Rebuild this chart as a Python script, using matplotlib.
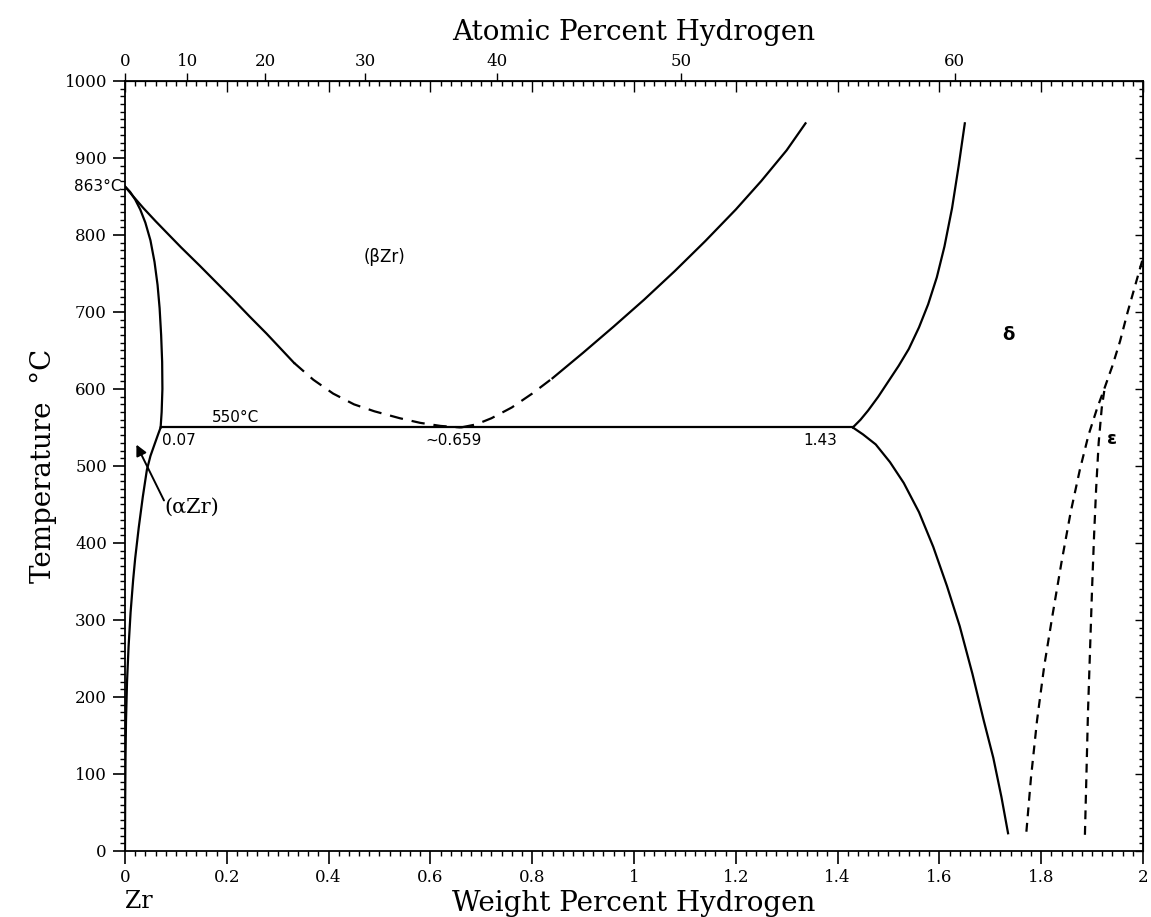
import matplotlib.pyplot as plt

# Zr-H phase diagram, weight percent hydrogen vs temperature
M_H = 1.008
M_ZR = 91.224

# boundary curves (wt% H, degC)
alpha_beta_w = [0, 0.01, 0.02, 0.03, 0.04, 0.05, 0.058, 0.064, 0.068, 0.071, 0.073, 0.0735, 0.072, 0.07]
alpha_beta_t = [863, 856, 846, 833, 816, 793, 765, 735, 705, 670, 635, 600, 570, 550]

beta_left_w = [0, 0.015, 0.036, 0.06, 0.082, 0.11, 0.147, 0.18, 0.213, 0.245, 0.278, 0.305, 0.332]
beta_left_t = [863, 851, 835, 818, 803, 784, 760, 738, 716, 694, 672, 653, 634]
beta_left_dash_w = [0.332, 0.37, 0.409, 0.45, 0.49, 0.54, 0.58, 0.62, 0.66]
beta_left_dash_t = [634, 612, 594, 580, 571, 562, 556, 552, 550]

beta_right_dash_w = [0.66, 0.69, 0.72, 0.76, 0.80, 0.84]
beta_right_dash_t = [550, 554, 562, 576, 594, 614]
beta_right_w = [0.84, 0.90, 0.96, 1.02, 1.08, 1.14, 1.20, 1.25, 1.30, 1.337]
beta_right_t = [614, 647, 681, 716, 753, 792, 833, 870, 910, 945]

alpha_delta_w = [0, 0.0003, 0.001, 0.002, 0.004, 0.007, 0.011, 0.016, 0.02, 0.027, 0.035,
                 0.043, 0.05, 0.058, 0.065, 0.07]
alpha_delta_t = [0, 60, 120, 170, 220, 265, 310, 352, 380, 420, 460, 495, 513, 528, 541, 550]

eutectoid_w = [0.07, 1.43]
eutectoid_t = [550, 550]

delta_upper_w = [1.43, 1.445, 1.46, 1.48, 1.50, 1.52, 1.54, 1.56, 1.578, 1.595, 1.61, 1.625, 1.638, 1.65]
delta_upper_t = [550, 560, 572, 590, 610, 630, 652, 680, 710, 745, 785, 835, 890, 945]

delta_lower_w = [1.43, 1.45, 1.475, 1.503, 1.53, 1.56, 1.588, 1.615, 1.64, 1.665, 1.687, 1.706, 1.722, 1.735]
delta_lower_t = [550, 541, 528, 505, 478, 440, 395, 344, 292, 230, 170, 121, 70, 23]

eps_left_w = [1.771, 1.78, 1.792, 1.806, 1.822, 1.84, 1.858, 1.876, 1.893, 1.91, 1.925, 1.94,
              1.955, 1.97, 1.985, 2.0]
eps_left_t = [25, 95, 170, 240, 305, 375, 440, 495, 540, 575, 602, 630, 662, 700, 735, 770]
eps_right_w = [1.886, 1.889, 1.892, 1.896, 1.900, 1.904, 1.908, 1.913, 1.919, 1.925]
eps_right_t = [21, 100, 180, 260, 340, 410, 470, 530, 575, 602]

wt_ticks = [0, 0.2, 0.4, 0.6, 0.8, 1.0, 1.2, 1.4, 1.6, 1.8, 2.0]
wt_labels = ['0', '0.2', '0.4', '0.6', '0.8', '1', '1.2', '1.4', '1.6', '1.8', '2']
at_ticks = [0, 10, 20, 30, 40, 50, 60]
t_ticks = list(range(0, 1001, 100))


def wt_to_at(w):
    nh = w / M_H
    return 100 * nh / (nh + (100 - w) / M_ZR)


def at_to_wt(a):
    return 100 * a * M_H / (a * M_H + (100 - a) * M_ZR)


serif = 'DejaVu Serif'
sans = 'DejaVu Sans'

fig = plt.figure(figsize=(11.51, 9.17), dpi=100)
ax = fig.add_axes([0.1086, 0.072, 0.8844, 0.8397])

lw = 1.6
ax.plot(alpha_beta_w, alpha_beta_t, color='k', lw=lw)
ax.plot(beta_left_w, beta_left_t, color='k', lw=lw)
ax.plot(beta_left_dash_w, beta_left_dash_t, color='k', lw=lw, dashes=(6, 4))
ax.plot(beta_right_dash_w, beta_right_dash_t, color='k', lw=lw, dashes=(6, 4))
ax.plot(beta_right_w, beta_right_t, color='k', lw=lw)
ax.plot(alpha_delta_w, alpha_delta_t, color='k', lw=lw)
ax.plot(eutectoid_w, eutectoid_t, color='k', lw=lw)
ax.plot(delta_upper_w, delta_upper_t, color='k', lw=lw)
ax.plot(delta_lower_w, delta_lower_t, color='k', lw=lw)
ax.plot(eps_left_w, eps_left_t, color='k', lw=lw, dashes=(4, 3))
ax.plot(eps_right_w, eps_right_t, color='k', lw=lw, dashes=(4, 3))

ax.set_xlim(0, 2)
ax.set_ylim(0, 1000)

# bottom / left ticks
ax.set_xticks(wt_ticks)
ax.set_xticklabels(wt_labels, fontfamily=serif, fontsize=12)
ax.set_xticks([i * 0.02 for i in range(101)], minor=True)
ax.set_yticks(t_ticks)
ax.set_yticklabels([str(t) for t in t_ticks], fontfamily=serif, fontsize=12)
ax.set_yticks(list(range(0, 1001, 10)), minor=True)
ax.tick_params(which='major', direction='out', length=9, width=1.2, pad=4)
ax.tick_params(which='minor', direction='out', length=3.5, width=1.0)
for s in ax.spines.values():
    s.set_linewidth(1.3)

# top: wt% ticks inward, atomic % outward
top_wt = ax.secondary_xaxis('top', functions=(lambda x: x, lambda x: x))
top_wt.set_xticks(wt_ticks)
top_wt.set_xticks([i * 0.02 for i in range(101)], minor=True)
top_wt.tick_params(which='major', direction='in', length=8, width=1.0, labeltop=False)
top_wt.tick_params(which='minor', direction='in', length=3.5, width=1.0)
top_wt.set_xticklabels([])

top_at = ax.secondary_xaxis('top', functions=(wt_to_at, at_to_wt))
top_at.set_xticks(at_ticks)
top_at.set_xticklabels([str(a) for a in at_ticks], fontfamily=serif, fontsize=12)
top_at.tick_params(which='major', direction='out', length=6, width=1.0, pad=2)
top_at.minorticks_off()
top_at.set_xlabel('Atomic Percent Hydrogen', fontfamily=serif, fontsize=20, labelpad=9)

right = ax.secondary_yaxis('right', functions=(lambda y: y, lambda y: y))
right.set_yticks(t_ticks)
right.set_yticks(list(range(0, 1001, 10)), minor=True)
right.tick_params(which='major', direction='in', length=6, width=1.0, labelright=False)
right.tick_params(which='minor', direction='in', length=3, width=1.0)
right.set_yticklabels([])

ax.set_xlabel('Weight Percent Hydrogen', fontfamily=serif, fontsize=20, labelpad=3)
ax.set_ylabel('Temperature  °C', fontfamily=serif, fontsize=20, labelpad=5)
ax.text(0.0, -0.066, 'Zr', transform=ax.transAxes, fontfamily=serif, fontsize=17,
        ha='left', va='center')

# annotations
ax.text(-0.006, 863, '863°C', fontfamily=sans, fontsize=11, ha='right', va='center')
ax.text(0.17, 553, '550°C', fontfamily=sans, fontsize=11, ha='left', va='bottom')
ax.text(0.072, 543, '0.07', fontfamily=sans, fontsize=11, ha='left', va='top')
ax.text(0.645, 543, '~0.659', fontfamily=sans, fontsize=11, ha='center', va='top')
ax.text(1.40, 543, '1.43', fontfamily=sans, fontsize=11, ha='right', va='top')
ax.text(0.51, 771, '(βZr)', fontfamily=sans, fontsize=12, ha='center', va='center')
ax.text(1.735, 670, 'δ', fontfamily=sans, fontsize=13, fontweight='bold', ha='center', va='center')
ax.text(1.94, 535, 'ε', fontfamily=sans, fontsize=13, fontweight='bold', ha='center', va='center')
ax.annotate('', xy=(0.02, 531), xytext=(0.079, 452),
            arrowprops=dict(arrowstyle='-|>', lw=1.4, color='k', mutation_scale=16))
ax.text(0.078, 447, '(αZr)', fontfamily=serif, fontsize=15, ha='left', va='center')

plt.savefig('out.png', dpi=100)
plt.close()
